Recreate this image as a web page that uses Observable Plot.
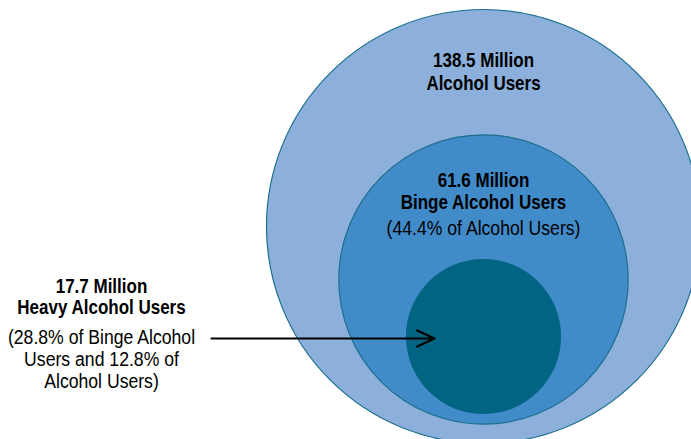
<!DOCTYPE html>
<html>
<head>
<meta charset="utf-8">
<script src="https://cdn.jsdelivr.net/npm/d3@7"></script>
<script src="https://cdn.jsdelivr.net/npm/@observablehq/plot@0.6"></script>
<style>
  html, body { margin: 0; padding: 0; background: #ffffff; }
  #chart svg { display: block; }
</style>
</head>
<body>
<div id="chart"></div>
<script>
// ---- data ----
const groups = ["Alcohol Users", "Binge Alcohol Users", "Heavy Alcohol Users"];
const millions = [138.5, 61.6, 17.7];
const shareLines = [
  [],
  ["(44.4% of Alcohol Users)"],
  ["(28.8% of Binge Alcohol", "Users and 12.8% of", "Alcohol Users)"]
];
const fills = ["#8cb0db", "#428bc9", "#006482"];

// ---- layout (pixel space) ----
const W = 691, H = 439;
const cx = 483;
const centersY = [226, 279, 336];
const strokes = ["#1c6f8d", "#1c6f8d", "none"];
const font = "'Liberation Sans', Arial, sans-serif";

const circles = groups.map((g, i) => ({
  group: g, value: millions[i], x: cx, y: centersY[i], fill: fills[i], stroke: strokes[i]
}));

const textLines = [];
textLines.push({x: cx, y: 66, text: `${millions[0]} Million`, bold: true});
textLines.push({x: cx, y: 89, text: groups[0], bold: true});
textLines.push({x: cx, y: 186, text: `${millions[1]} Million`, bold: true});
textLines.push({x: cx, y: 208, text: groups[1], bold: true});
shareLines[1].forEach((t, j) => textLines.push({x: cx, y: 234 + j * 22, text: t, bold: false}));
const lx = 101;
textLines.push({x: lx, y: 292, text: `${millions[2]} Million`, bold: true});
textLines.push({x: lx, y: 313, text: groups[2], bold: true});
shareLines[2].forEach((t, j) => textLines.push({x: lx, y: 343 + j * 22, text: t, bold: false}));

const arrow = [{x1: 211, y1: 338, x2: 434, y2: 338}];

const chart = Plot.plot({
  width: W,
  height: H,
  margin: 0,
  x: {type: "identity", axis: null},
  y: {type: "identity", axis: null},
  r: {type: "sqrt", domain: [0, millions[0]], range: [0, 217]},
  style: {fontFamily: font, background: "#ffffff"},
  marks: [
    Plot.dot(circles, {
      x: "x", y: "y", r: "value",
      fill: d => d.fill, stroke: d => d.stroke, strokeWidth: 1.2, fillOpacity: 1
    }),
    Plot.arrow(arrow, {
      x1: "x1", y1: "y1", x2: "x2", y2: "y2",
      stroke: "#000000", strokeWidth: 2.2, headLength: 13, headAngle: 50, bend: 0
    }),
    Plot.text(textLines.filter(d => d.bold), {
      x: "x", y: "y", text: "text", textAnchor: "middle", lineAnchor: "bottom",
      fontSize: 20, fontWeight: "bold", fill: "#000000", className: "lblb"
    }),
    Plot.text(textLines.filter(d => !d.bold), {
      x: "x", y: "y", text: "text", textAnchor: "middle", lineAnchor: "bottom",
      fontSize: 21, fontWeight: "normal", fill: "#000000", className: "lbln"
    })
  ]
});

// condense label text horizontally around each anchor point
function condense(sel, k) {
  chart.querySelectorAll(sel).forEach(t => {
    let tr = t.getAttribute("transform") || "";
    const x = t.getAttribute("x"), y = t.getAttribute("y");
    if (x != null || y != null) {
      tr += ` translate(${x || 0},${y || 0})`;
      t.removeAttribute("x"); t.removeAttribute("y");
    }
    t.setAttribute("transform", `${tr} scale(${k},1)`);
  });
}
condense("g.lblb text", 0.85);
condense("g.lbln text", 0.84);

document.getElementById("chart").appendChild(chart);
</script>
</body>
</html>
